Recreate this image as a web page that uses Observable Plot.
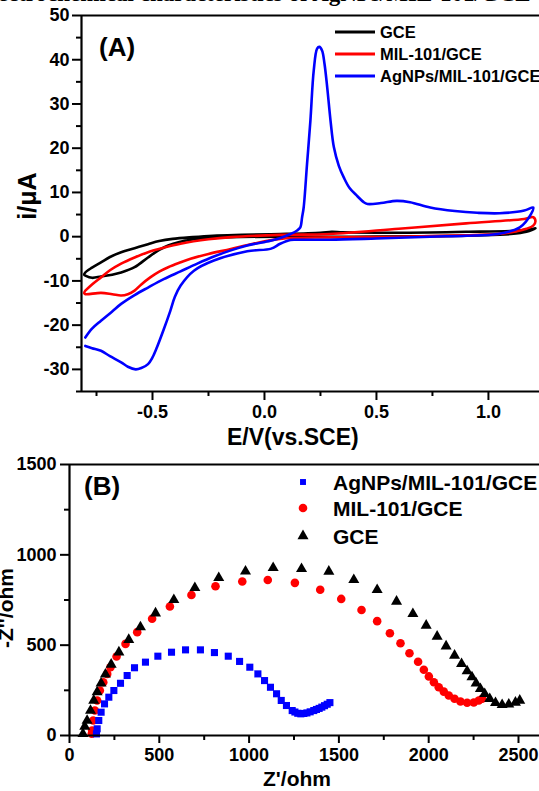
<!DOCTYPE html>
<html><head><meta charset="utf-8">
<script src="https://cdn.jsdelivr.net/npm/d3@7"></script>
<script src="https://cdn.jsdelivr.net/npm/@observablehq/plot@0.6"></script>
<style>
body{margin:0;background:#fff;}
#wrap{position:relative;width:539px;height:791px;overflow:hidden;background:#fff;font-family:"Liberation Sans",Arial,sans-serif;font-weight:bold;color:#000;}
.abs{position:absolute;white-space:nowrap;}
</style></head><body><div id="wrap"></div>
<script>
// ---------- Panel A: cyclic voltammograms [E (V vs SCE), i (uA)] ----------
const cvGCE = [[-0.80,-8.8],[-0.77,-9.3],[-0.73,-9.0],[-0.68,-8.6],[-0.64,-8.1],[-0.58,-6.9],[-0.52,-4.7],[-0.47,-3.0],[-0.43,-2.0],[-0.38,-1.2],[-0.33,-0.7],[-0.25,-0.3],[-0.15,-0.1],[0.1,0.0],[0.4,0.0],[0.7,0.1],[0.95,0.3],[1.1,0.6],[1.17,1.1],[1.21,1.9],
  [1.18,1.6],[1.1,1.3],[0.9,1.1],[0.6,0.9],[0.35,1.0],[0.3,1.1],[0.25,0.9],[0.07,0.6],[-0.1,0.4],[-0.23,0.2],[-0.32,-0.1],[-0.41,-0.5],[-0.47,-1.0],[-0.52,-1.7],[-0.58,-2.6],[-0.64,-3.5],[-0.69,-4.6],[-0.73,-5.8],[-0.77,-7.0],[-0.80,-8.1],[-0.805,-8.6],[-0.80,-8.8]];
const cvMIL = [[-0.80,-12.2],[-0.805,-12.8],[-0.80,-13.0],[-0.73,-12.7],[-0.68,-13.0],[-0.64,-13.3],[-0.61,-13.0],[-0.58,-12.2],[-0.55,-10.8],[-0.51,-9.2],[-0.47,-7.9],[-0.43,-6.9],[-0.38,-5.9],[-0.33,-5.0],[-0.25,-3.9],[-0.15,-2.8],[-0.05,-1.6],[0.07,-0.5],[0.29,-0.15],[0.6,0.0],[0.9,0.3],[1.04,0.6],[1.12,1.2],[1.17,1.8],[1.2,2.5],[1.21,3.5],[1.2,4.4],
  [1.16,4.0],[0.9,3.0],[0.6,1.8],[0.29,0.6],[0.07,0.4],[-0.15,-0.1],[-0.25,-0.6],[-0.375,-1.6],[-0.45,-2.5],[-0.52,-3.5],[-0.58,-4.7],[-0.64,-6.1],[-0.69,-7.6],[-0.73,-9.2],[-0.77,-10.8],[-0.80,-12.2]];
const cvAg = [[-0.80,-22.8],[-0.77,-20.8],[-0.73,-19.0],[-0.68,-16.9],[-0.64,-15.2],[-0.58,-13.2],[-0.52,-11.5],[-0.45,-9.6],[-0.375,-7.85],[-0.30,-6.1],[-0.226,-4.5],[-0.15,-3.1],[-0.077,-2.0],[0.027,-0.9],[0.071,-0.3],[0.116,0.6],[0.146,1.4],[0.16,2.1],[0.168,4.4],[0.175,6.6],[0.19,16.4],[0.205,26.2],[0.22,37.6],[0.235,42.5],[0.245,42.9],[0.257,42.1],[0.268,39.1],[0.28,33.8],[0.295,26.2],[0.31,20.2],[0.332,16.0],[0.354,13.4],[0.38,11.0],[0.414,9.2],[0.443,7.8],[0.46,7.4],[0.52,7.6],[0.59,8.1],[0.65,7.8],[0.74,6.6],[0.85,5.8],[0.95,5.4],[1.05,5.3],[1.16,5.9],[1.2,6.6],
  [1.19,5.1],[1.14,2.1],[1.04,0.6],[0.9,0.2],[0.74,0.0],[0.5,-0.4],[0.29,-0.7],[0.15,-0.7],[0.116,-0.75],[0.07,-1.6],[0.03,-2.7],[-0.077,-3.3],[-0.226,-5.4],[-0.315,-7.7],[-0.375,-11.1],[-0.40,-13.6],[-0.42,-16.7],[-0.45,-21.0],[-0.48,-25.0],[-0.50,-27.3],[-0.52,-28.8],[-0.55,-29.7],[-0.575,-30.0],[-0.61,-29.4],[-0.64,-28.4],[-0.69,-27.0],[-0.73,-25.8],[-0.77,-25.2],[-0.80,-24.7]];
const cvNames = ["GCE", "MIL-101/GCE", "AgNPs/MIL-101/GCE"];
const cvColors = ["#000000", "#ff0000", "#0000ff"];
const cvXTicks = [-0.5, 0.0, 0.5, 1.0];
const cvXMinor = [-0.75, -0.25, 0.25, 0.75];
const cvYTicks = [-30, -20, -10, 0, 10, 20, 30, 40, 50];
const cvYMinor = [-35, -25, -15, -5, 5, 15, 25, 35, 45];

// ---------- Panel B: Nyquist plots [Z' (ohm), -Z'' (ohm)] ----------
const eisAg = [[150,9],[154,37],[163,83],[176,129],[195,175],[219,212],[247,249],[284,289],[321,332],[362,375],[423,406],[492,439],[568,461],[646,474],[729,474],[807,459],[884,439],[947,410],[1004,378],[1049,341],[1086,304],[1119,267],[1153,231],[1179,194],[1208,166],[1240,138],[1255,130],[1271,123],[1288,120],[1305,122],[1322,125],[1340,131],[1360,138],[1375,144],[1390,150],[1405,157],[1420,165],[1435,173],[1450,182]];
const eisMIL = [[124,10],[126,28],[132,83],[141,138],[154,194],[169,249],[188,295],[210,341],[228,378],[262,437],[312,507],[377,572],[460,646],[559,714],[679,778],[813,826],[962,852],[1104,861],[1255,845],[1396,807],[1513,756],[1626,695],[1713,633],[1784,566],[1843,511],[1893,455],[1941,408],[1973,364],[2001,327],[2029,295],[2056,267],[2084,243],[2112,221],[2144,203],[2177,188],[2214,181],[2251,183],[2279,194],[2298,203]];
const eisGCE = [[75,9],[85,50],[98,83],[117,138],[135,194],[154,240],[176,289],[200,338],[232,393],[275,461],[330,530],[395,600],[479,677],[581,751],[698,817],[831,873],[980,909],[1134,928],[1292,922],[1444,908],[1583,862],[1713,806],[1821,742],[1912,673],[1986,609],[2047,548],[2097,494],[2144,443],[2183,397],[2214,356],[2241,323],[2264,289],[2288,258],[2312,231],[2340,203],[2372,181],[2409,170],[2446,172],[2483,183],[2507,194]];
const eisNames = ["AgNPs/MIL-101/GCE", "MIL-101/GCE", "GCE"];
const eisColors = ["#0000ff", "#ff0000", "#000000"];
const eisSymbols = ["square", "circle", "triangle"];
const eisXTicks = [0, 500, 1000, 1500, 2000, 2500];
const eisXMinor = [250, 750, 1250, 1750, 2250];
const eisYTicks = [0, 500, 1000, 1500];
const eisYMinor = [250, 750, 1250];

const FONT = '"Liberation Sans", Arial, sans-serif';
const wrap = document.getElementById("wrap");
const X = d => d[0], Y = d => d[1];

// ---------- Panel A ----------
const xA = [-0.817, 1.228], yA = [-35, 50];
const plotA = Plot.plot({
  width: 539, height: 445,
  marginLeft: 81, marginRight: 0, marginTop: 15, marginBottom: 54,
  style: {fontFamily: FONT, fontWeight: "bold", fontSize: "18px", color: "#000", background: "transparent", overflow: "visible"},
  x: {domain: xA}, y: {domain: yA},
  marks: [
    Plot.axisX({ticks: cvXTicks, tickSize: 9, tickPadding: 5, strokeWidth: 2, tickFormat: d => d.toFixed(1), label: null, fontSize: 18}),
    Plot.axisX({ticks: cvXMinor, tickSize: 5, strokeWidth: 2, tickFormat: () => "", label: null}),
    Plot.axisY({ticks: cvYTicks, tickSize: 9, tickPadding: 3, strokeWidth: 2, tickFormat: d => String(d), label: null, fontSize: 18}),
    Plot.axisY({ticks: cvYMinor, tickSize: 5, strokeWidth: 2, tickFormat: () => "", label: null}),
    Plot.line(cvGCE, {x: X, y: Y, stroke: cvColors[0], strokeWidth: 2.6, curve: "catmull-rom"}),
    Plot.line(cvMIL, {x: X, y: Y, stroke: cvColors[1], strokeWidth: 2.6, curve: "catmull-rom"}),
    Plot.line(cvAg, {x: X, y: Y, stroke: cvColors[2], strokeWidth: 2.6, curve: "catmull-rom"}),
    Plot.ruleX([xA[0]], {stroke: "#000", strokeWidth: 2.2}),
    Plot.ruleY([yA[0]], {stroke: "#000", strokeWidth: 2.2}),
    Plot.ruleY([yA[1]], {stroke: "#000", strokeWidth: 2.2})
  ]
});
plotA.style.position = "absolute"; plotA.style.left = "0px"; plotA.style.top = "0px";
wrap.appendChild(plotA);

// ---------- Panel B ----------
const xB = [0, 2617], yB = [0, 1500];
const dotsB = [eisMIL, eisGCE, eisAg];
const idxB = [1, 2, 0];
const symR = {square: 4, circle: 4.3, triangle: 4.1};
const plotB = Plot.plot({
  width: 539, height: 346,
  marginLeft: 69, marginRight: 0, marginTop: 19, marginBottom: 56,
  style: {fontFamily: FONT, fontWeight: "bold", fontSize: "18px", color: "#000", background: "transparent", overflow: "visible"},
  x: {domain: xB}, y: {domain: yB},
  marks: [
    Plot.axisX({ticks: eisXTicks, tickSize: 8, tickPadding: 5, strokeWidth: 2, tickFormat: d => String(d), label: null, fontSize: 18}),
    Plot.axisX({ticks: eisXMinor, tickSize: 5, strokeWidth: 2, tickFormat: () => "", label: null}),
    Plot.axisY({ticks: eisYTicks, tickSize: 9, tickPadding: 4, strokeWidth: 2, tickFormat: d => String(d), label: null, fontSize: 18}),
    Plot.axisY({ticks: eisYMinor, tickSize: 5, strokeWidth: 2, tickFormat: () => "", label: null}),
    ...dotsB.map((data, k) => Plot.dot(data, {x: X, y: Y, symbol: eisSymbols[idxB[k]], r: symR[eisSymbols[idxB[k]]], fill: eisColors[idxB[k]], stroke: "none"})),
    Plot.ruleX([xB[0]], {stroke: "#000", strokeWidth: 2.2}),
    Plot.ruleY([yB[0]], {stroke: "#000", strokeWidth: 2.2}),
    Plot.ruleY([yB[1]], {stroke: "#000", strokeWidth: 2.2})
  ]
});
plotB.style.position = "absolute"; plotB.style.left = "0px"; plotB.style.top = "445px";
wrap.appendChild(plotB);

// ---------- texts ----------
function txt(s, css) {
  const d = document.createElement("div");
  d.className = "abs"; d.textContent = s;
  Object.assign(d.style, css);
  wrap.appendChild(d);
  return d;
}
// heading, clipped by the top edge as in the source image
txt("Electrochemical characteristics of AgNPs/MIL-101/GCE", {left: "-24px", top: "-18px", fontFamily: '"Liberation Serif", "Times New Roman", serif', fontSize: "23px", lineHeight: "23px"});
txt("(A)", {left: "99px", top: "32px", fontSize: "26px", lineHeight: "30px"});
txt("(B)", {left: "84px", top: "471px", fontSize: "26px", lineHeight: "30px"});
txt("E/V(vs.SCE)", {left: "227px", top: "424px", fontSize: "23px", lineHeight: "26px"});
txt("Z'/ohm", {left: "263px", top: "767px", fontSize: "21px", lineHeight: "24px"});
const ylA = txt("i/\u03bcA", {left: "27px", top: "196px", fontSize: "25px", lineHeight: "28px"});
ylA.style.transform = "translate(-50%,-50%) rotate(-90deg)";
const ylB = txt("-Z''/ohm", {left: "6px", top: "608px", fontSize: "21px", lineHeight: "24px"});
ylB.style.transform = "translate(-50%,-50%) rotate(-90deg)";

// ---------- legends ----------
const svgL = d3.select(wrap).append("svg").attr("width", 539).attr("height", 791)
  .style("position", "absolute").style("left", 0).style("top", 0).style("pointer-events", "none");
const legA = [32, 54, 76];
cvNames.forEach((n, k) => {
  svgL.append("line").attr("x1", 335).attr("x2", 375).attr("y1", legA[k]).attr("y2", legA[k])
    .attr("stroke", cvColors[k]).attr("stroke-width", 3);
  svgL.append("text").attr("x", 380).attr("y", legA[k]).attr("dy", "0.36em")
    .attr("font-family", FONT).attr("font-weight", "bold").attr("font-size", 16.5).text(n);
});
const legB = [482, 508, 536];
eisNames.forEach((n, k) => {
  const sym = d3.symbol().type({square: d3.symbolSquare, circle: d3.symbolCircle, triangle: d3.symbolTriangle}[eisSymbols[k]])
    .size(Math.PI * symR[eisSymbols[k]] ** 2 * (eisSymbols[k] === "square" ? 0.7 : 1));
  svgL.append("path").attr("d", sym()).attr("transform", `translate(303,${legB[k]})`).attr("fill", eisColors[k]);
  svgL.append("text").attr("x", 333).attr("y", legB[k]).attr("dy", "0.36em")
    .attr("font-family", FONT).attr("font-weight", "bold").attr("font-size", 21).text(n);
});
</script></body></html>
